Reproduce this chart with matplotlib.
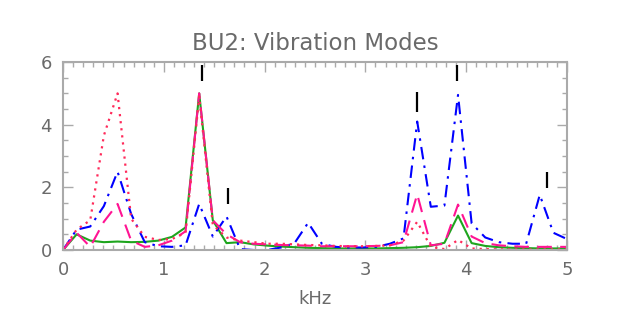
import numpy as np
import matplotlib
matplotlib.use("Agg")
import matplotlib.pyplot as plt
from matplotlib.ticker import MultipleLocator

# ======================
# DATA
# ======================
freq = [0.000, 0.135, 0.270, 0.405, 0.541, 0.676, 0.811, 0.946, 1.081, 1.216,
        1.351, 1.486, 1.622, 1.757, 1.892, 2.027, 2.162, 2.297, 2.432, 2.568,
        2.703, 2.838, 2.973, 3.108, 3.243, 3.378, 3.514, 3.649, 3.784, 3.919,
        4.054, 4.189, 4.324, 4.459, 4.595, 4.730, 4.865, 5.000]

green_solid = [0.0, 0.5, 0.3, 0.25, 0.27, 0.25, 0.26, 0.3, 0.42, 0.72,
               5.0, 0.95, 0.22, 0.25, 0.18, 0.14, 0.11, 0.09, 0.07, 0.06,
               0.05, 0.05, 0.05, 0.05, 0.06, 0.07, 0.09, 0.13, 0.23, 1.1,
               0.22, 0.13, 0.09, 0.07, 0.06, 0.05, 0.05, 0.05]

blue_dashdot = [0.0, 0.65, 0.75, 1.4, 2.5, 1.15, 0.25, 0.12, 0.1, 0.15,
                1.47, 0.43, 1.07, 0.03, 0.0, 0.0, 0.08, 0.22, 0.87, 0.2,
                0.1, 0.08, 0.08, 0.1, 0.2, 0.37, 4.1, 1.38, 1.42, 4.95,
                0.85, 0.4, 0.25, 0.2, 0.2, 1.76, 0.55, 0.35]

magenta_dash = [0.0, 0.55, 0.1, 0.9, 1.47, 0.3, 0.1, 0.15, 0.3, 0.6,
                5.0, 0.95, 0.5, 0.25, 0.2, 0.18, 0.16, 0.15, 0.14, 0.12,
                0.12, 0.12, 0.12, 0.13, 0.15, 0.25, 1.78, 0.15, 0.2, 1.45,
                0.43, 0.22, 0.15, 0.12, 0.1, 0.1, 0.1, 0.1]

red_dotted = [0.0, 0.65, 0.95, 3.65, 5.0, 1.0, 0.42, 0.32, 0.35, 0.55,
              4.9, 0.8, 0.4, 0.3, 0.25, 0.2, 0.2, 0.18, 0.16, 0.15,
              0.13, 0.12, 0.12, 0.13, 0.15, 0.3, 0.9, 0.1, 0.03, 0.32,
              0.05, 0.03, 0.02, 0.02, 0.02, 0.02, 0.02, 0.02]

# mode markers (short vertical bars above the peaks)
mode_freq = [1.376, 1.635, 3.515, 3.905, 4.800]
mode_low = [5.41, 1.47, 4.40, 5.41, 1.97]
mode_high = [5.91, 1.97, 5.03, 5.91, 2.50]

# ======================
# STYLE
# ======================
text_col = "#6a6a6a"
axis_col = "#aaaaaa"
plt.rcParams["font.family"] = ["DejaVu Sans"]

fig = plt.figure(figsize=(6.29, 3.14), dpi=100)
ax = fig.add_axes([0.1002, 0.2038, 0.8012, 0.5987])

ax.plot(freq, green_solid, color="#1ea51e", lw=1.5, ls="-")
ax.plot(freq, blue_dashdot, color="#0000ff", lw=1.5, ls=(0, (6, 3, 1.2, 3)))
ax.plot(freq, magenta_dash, color="#ff1493", lw=1.5, ls=(0, (7, 4)))
ax.plot(freq, red_dotted, color="#ff2a5a", lw=1.6, ls=(0, (1, 2.2)))

ax.vlines(mode_freq, mode_low, mode_high, color="black", lw=1.6)

ax.set_xlim(0, 5)
ax.set_ylim(0, 6)
ax.xaxis.set_major_locator(MultipleLocator(1))
ax.xaxis.set_minor_locator(MultipleLocator(0.1))
ax.yaxis.set_major_locator(MultipleLocator(2))
ax.yaxis.set_minor_locator(MultipleLocator(0.5))

ax.tick_params(which="both", direction="in", top=True, right=True,
               color=axis_col, width=1.0)
ax.tick_params(which="major", length=7, labelsize=13, pad=8,
               labelcolor=text_col)
ax.tick_params(which="minor", length=3.5)
for s in ax.spines.values():
    s.set_color(axis_col)
    s.set_linewidth(1.5)

ax.set_xlabel("kHz", fontsize=13, color=text_col, labelpad=8)
ax.set_title("BU2: Vibration Modes", fontsize=16.5, color=text_col, pad=9)

fig.savefig("out.png", dpi=100)
